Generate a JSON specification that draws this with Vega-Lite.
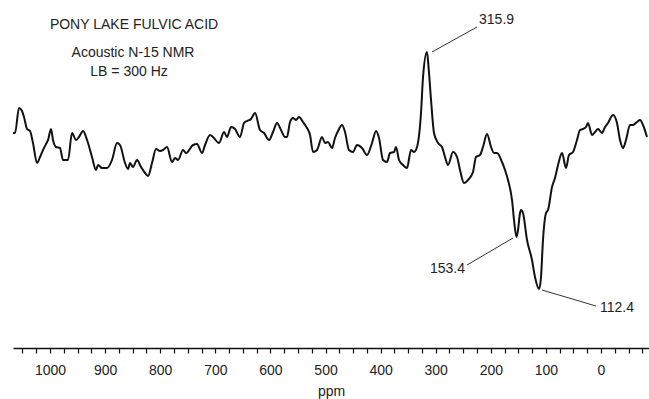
{
  "$schema": "https://vega.github.io/schema/vega-lite/v6.json",
  "width": 636,
  "height": 348,
  "autosize": {"type": "none"},
  "padding": {"left": 13, "top": 0, "right": 0, "bottom": 51},
  "background": "white",
  "config": {"view": {"stroke": null}, "font": "Liberation Sans"},
  "datasets": {
    "spectrum": [
      {"ppm": 1067.2, "intensity": 7}, {"ppm": 1063.5, "intensity": 7}, {"ppm": 1056.3, "intensity": 32},
      {"ppm": 1050.8, "intensity": 29}, {"ppm": 1047.2, "intensity": 23}, {"ppm": 1041.7, "intensity": 11},
      {"ppm": 1036.3, "intensity": 9}, {"ppm": 1030.9, "intensity": -3}, {"ppm": 1023.6, "intensity": -23},
      {"ppm": 1018.1, "intensity": -17}, {"ppm": 1012.7, "intensity": -10}, {"ppm": 1005.4, "intensity": -2},
      {"ppm": 1003.6, "intensity": 0}, {"ppm": 998.2, "intensity": 11}, {"ppm": 994.6, "intensity": 0},
      {"ppm": 989.1, "intensity": -7}, {"ppm": 981.9, "intensity": -8}, {"ppm": 976.4, "intensity": -20},
      {"ppm": 967.3, "intensity": -20}, {"ppm": 960.1, "intensity": 7}, {"ppm": 952.8, "intensity": 0},
      {"ppm": 947.4, "intensity": 3}, {"ppm": 940.1, "intensity": 9}, {"ppm": 932.8, "intensity": 0},
      {"ppm": 923.8, "intensity": -17}, {"ppm": 916.5, "intensity": -30}, {"ppm": 912.9, "intensity": -25},
      {"ppm": 905.6, "intensity": -28}, {"ppm": 896.6, "intensity": -28}, {"ppm": 887.5, "intensity": -20},
      {"ppm": 878.4, "intensity": -3}, {"ppm": 873.0, "intensity": -5}, {"ppm": 863.9, "intensity": -23},
      {"ppm": 858.4, "intensity": -29}, {"ppm": 854.8, "intensity": -23}, {"ppm": 849.4, "intensity": -27},
      {"ppm": 842.1, "intensity": -20}, {"ppm": 834.8, "intensity": -27}, {"ppm": 827.6, "intensity": -33},
      {"ppm": 822.1, "intensity": -36}, {"ppm": 814.9, "intensity": -23}, {"ppm": 807.6, "intensity": -9},
      {"ppm": 800.4, "intensity": -11}, {"ppm": 794.9, "intensity": -10}, {"ppm": 787.7, "intensity": -7},
      {"ppm": 778.6, "intensity": -22}, {"ppm": 773.1, "intensity": -18}, {"ppm": 767.7, "intensity": -20},
      {"ppm": 758.6, "intensity": -10}, {"ppm": 753.2, "intensity": -13}, {"ppm": 740.5, "intensity": -5},
      {"ppm": 733.2, "intensity": -4}, {"ppm": 724.1, "intensity": -13}, {"ppm": 718.7, "intensity": -5},
      {"ppm": 709.6, "intensity": 5}, {"ppm": 704.2, "intensity": 3}, {"ppm": 693.3, "intensity": -3},
      {"ppm": 684.2, "intensity": 8}, {"ppm": 678.8, "intensity": 3}, {"ppm": 671.5, "intensity": 13},
      {"ppm": 664.2, "intensity": 11}, {"ppm": 655.2, "intensity": 3}, {"ppm": 647.9, "intensity": 17},
      {"ppm": 642.5, "intensity": 19}, {"ppm": 635.2, "intensity": 21}, {"ppm": 627.9, "intensity": 27},
      {"ppm": 618.9, "intensity": 10}, {"ppm": 611.6, "intensity": 7}, {"ppm": 602.5, "intensity": 0},
      {"ppm": 595.3, "intensity": 8}, {"ppm": 588.0, "intensity": 17}, {"ppm": 580.8, "intensity": 10},
      {"ppm": 573.5, "intensity": 3}, {"ppm": 569.9, "intensity": 3}, {"ppm": 564.4, "intensity": 18},
      {"ppm": 559.0, "intensity": 22}, {"ppm": 553.5, "intensity": 20}, {"ppm": 548.1, "intensity": 23},
      {"ppm": 540.8, "intensity": 18}, {"ppm": 533.6, "intensity": 12}, {"ppm": 528.1, "intensity": 5},
      {"ppm": 522.7, "intensity": -12}, {"ppm": 515.4, "intensity": -10}, {"ppm": 506.4, "intensity": 3},
      {"ppm": 500.9, "intensity": -3}, {"ppm": 495.5, "intensity": -2}, {"ppm": 488.2, "intensity": -8},
      {"ppm": 482.8, "intensity": 2}, {"ppm": 477.3, "intensity": 9}, {"ppm": 470.1, "intensity": 15},
      {"ppm": 464.6, "intensity": 8}, {"ppm": 457.4, "intensity": -10}, {"ppm": 450.1, "intensity": -12},
      {"ppm": 442.8, "intensity": -5}, {"ppm": 433.8, "intensity": -8}, {"ppm": 424.7, "intensity": -15},
      {"ppm": 415.6, "intensity": -3}, {"ppm": 408.3, "intensity": 9}, {"ppm": 402.9, "intensity": 2},
      {"ppm": 395.6, "intensity": -20}, {"ppm": 388.4, "intensity": -22}, {"ppm": 382.9, "intensity": -13},
      {"ppm": 375.7, "intensity": -12}, {"ppm": 372.1, "intensity": -7}, {"ppm": 366.6, "intensity": -20},
      {"ppm": 359.3, "intensity": -25}, {"ppm": 352.1, "intensity": -28}, {"ppm": 344.8, "intensity": -10},
      {"ppm": 339.4, "intensity": -12}, {"ppm": 333.9, "intensity": -7}, {"ppm": 326.7, "intensity": 27},
      {"ppm": 323.0, "intensity": 63}, {"ppm": 315.9, "intensity": 88}, {"ppm": 313.0, "intensity": 73},
      {"ppm": 308.5, "intensity": 40}, {"ppm": 303.1, "intensity": 7}, {"ppm": 295.8, "intensity": -3},
      {"ppm": 288.6, "intensity": -7}, {"ppm": 283.1, "intensity": -17}, {"ppm": 277.7, "intensity": -25},
      {"ppm": 268.6, "intensity": -12}, {"ppm": 261.3, "intensity": -17}, {"ppm": 255.9, "intensity": -30},
      {"ppm": 248.6, "intensity": -43}, {"ppm": 241.4, "intensity": -40}, {"ppm": 232.3, "intensity": -32},
      {"ppm": 226.9, "intensity": -17}, {"ppm": 219.6, "intensity": -15}, {"ppm": 214.2, "intensity": -7},
      {"ppm": 206.9, "intensity": 6}, {"ppm": 199.6, "intensity": -7}, {"ppm": 194.2, "intensity": -13},
      {"ppm": 188.7, "intensity": -13}, {"ppm": 179.7, "intensity": -22}, {"ppm": 174.2, "intensity": -30},
      {"ppm": 168.8, "intensity": -40}, {"ppm": 161.5, "intensity": -60}, {"ppm": 157.9, "intensity": -80},
      {"ppm": 153.4, "intensity": -97}, {"ppm": 150.6, "intensity": -90}, {"ppm": 147.0, "intensity": -73},
      {"ppm": 145.2, "intensity": -70}, {"ppm": 141.6, "intensity": -73}, {"ppm": 134.3, "intensity": -100},
      {"ppm": 125.2, "intensity": -120}, {"ppm": 119.8, "intensity": -137}, {"ppm": 112.4, "intensity": -149},
      {"ppm": 108.9, "intensity": -137}, {"ppm": 105.3, "intensity": -100}, {"ppm": 99.8, "intensity": -73},
      {"ppm": 96.2, "intensity": -70}, {"ppm": 88.9, "intensity": -47}, {"ppm": 83.5, "intensity": -38},
      {"ppm": 78.0, "intensity": -25}, {"ppm": 70.8, "intensity": -13}, {"ppm": 63.5, "intensity": -28},
      {"ppm": 58.1, "intensity": -15}, {"ppm": 50.8, "intensity": -12}, {"ppm": 43.6, "intensity": 0},
      {"ppm": 38.1, "intensity": 10}, {"ppm": 32.7, "intensity": 11}, {"ppm": 27.2, "intensity": 13},
      {"ppm": 23.6, "intensity": 17}, {"ppm": 16.3, "intensity": 5}, {"ppm": 10.9, "intensity": 8},
      {"ppm": 5.4, "intensity": 11}, {"ppm": -1.8, "intensity": 7}, {"ppm": -7.3, "intensity": 13},
      {"ppm": -12.7, "intensity": 17}, {"ppm": -21.8, "intensity": 25}, {"ppm": -29.0, "intensity": 17},
      {"ppm": -34.5, "intensity": 0}, {"ppm": -39.9, "intensity": -8}, {"ppm": -45.4, "intensity": 0},
      {"ppm": -52.6, "intensity": 15}, {"ppm": -58.1, "intensity": 15}, {"ppm": -65.3, "intensity": 18},
      {"ppm": -70.8, "intensity": 20}, {"ppm": -76.2, "intensity": 15}, {"ppm": -83.5, "intensity": 3}
    ],
    "notes": [
      {"text": "PONY LAKE FULVIC ACID", "ppm": 847.5, "intensity": 115},
      {"text": "Acoustic N-15 NMR", "ppm": 849.4, "intensity": 87},
      {"text": "LB = 300 Hz", "ppm": 856.6, "intensity": 68}
    ],
    "peaks": [
      {"text": "315.9", "ppm": 221.4, "intensity": 120, "side": "left"},
      {"text": "153.4", "ppm": 246.8, "intensity": -129, "side": "right"},
      {"text": "112.4", "ppm": 1.8, "intensity": -168, "side": "left"}
    ],
    "leaders": [
      {"ppm1": 306.7, "i1": 88, "ppm2": 225.0, "i2": 113},
      {"ppm1": 243.2, "i1": -125, "ppm2": 159.7, "i2": -98},
      {"ppm1": 107.1, "i1": -150, "ppm2": 9.1, "i2": -166}
    ]
  },
  "layer": [
    {
      "data": {"name": "spectrum"},
      "mark": {"type": "line", "color": "#111111", "strokeWidth": 2, "interpolate": "monotone"},
      "encoding": {
        "x": {
          "field": "ppm", "type": "quantitative",
          "scale": {"domain": [1067.2, -87.1], "nice": false, "zero": false},
          "axis": {
            "values": [1050, 1025, 1000, 975, 950, 925, 900, 875, 850, 825, 800, 775, 750, 725, 700, 675, 650, 625, 600, 575, 550, 525, 500, 475, 450, 425, 400, 375, 350, 325, 300, 275, 250, 225, 200, 175, 150, 125, 100, 75, 50, 25, 0, -25, -50, -75],
            "tickCount": 200,
            "labelExpr": "datum.value % 100 == 0 ? format(datum.value, 'd') : ''",
            "labelOverlap": false,
            "labelFlush": false,
            "grid": false,
            "domainColor": "#111111",
            "domainWidth": 1.5,
            "tickColor": "#111111",
            "tickWidth": 1.2,
            "tickSize": 5,
            "labelFontSize": 14,
            "labelColor": "#222222",
            "labelPadding": 10,
            "title": "ppm",
            "titleFontSize": 14,
            "titleFontWeight": "normal",
            "titleColor": "#222222",
            "titlePadding": 7
          }
        },
        "y": {
          "field": "intensity", "type": "quantitative",
          "scale": {"domain": [-208, 140], "nice": false, "zero": false},
          "axis": null
        }
      }
    },
    {
      "data": {"name": "leaders"},
      "mark": {"type": "rule", "color": "#333333", "strokeWidth": 1},
      "encoding": {
        "x": {"field": "ppm1", "type": "quantitative"},
        "x2": {"field": "ppm2"},
        "y": {"field": "i1", "type": "quantitative"},
        "y2": {"field": "i2"}
      }
    },
    {
      "data": {"name": "notes"},
      "mark": {"type": "text", "fontSize": 14, "color": "#222222", "align": "center", "baseline": "middle"},
      "encoding": {
        "x": {"field": "ppm", "type": "quantitative"},
        "y": {"field": "intensity", "type": "quantitative"},
        "text": {"field": "text"}
      }
    },
    {
      "data": {"name": "peaks"},
      "transform": [{"filter": "datum.side == 'left'"}],
      "mark": {"type": "text", "fontSize": 14, "color": "#222222", "align": "left", "baseline": "middle"},
      "encoding": {
        "x": {"field": "ppm", "type": "quantitative"},
        "y": {"field": "intensity", "type": "quantitative"},
        "text": {"field": "text"}
      }
    },
    {
      "data": {"name": "peaks"},
      "transform": [{"filter": "datum.side == 'right'"}],
      "mark": {"type": "text", "fontSize": 14, "color": "#222222", "align": "right", "baseline": "middle"},
      "encoding": {
        "x": {"field": "ppm", "type": "quantitative"},
        "y": {"field": "intensity", "type": "quantitative"},
        "text": {"field": "text"}
      }
    }
  ]
}
